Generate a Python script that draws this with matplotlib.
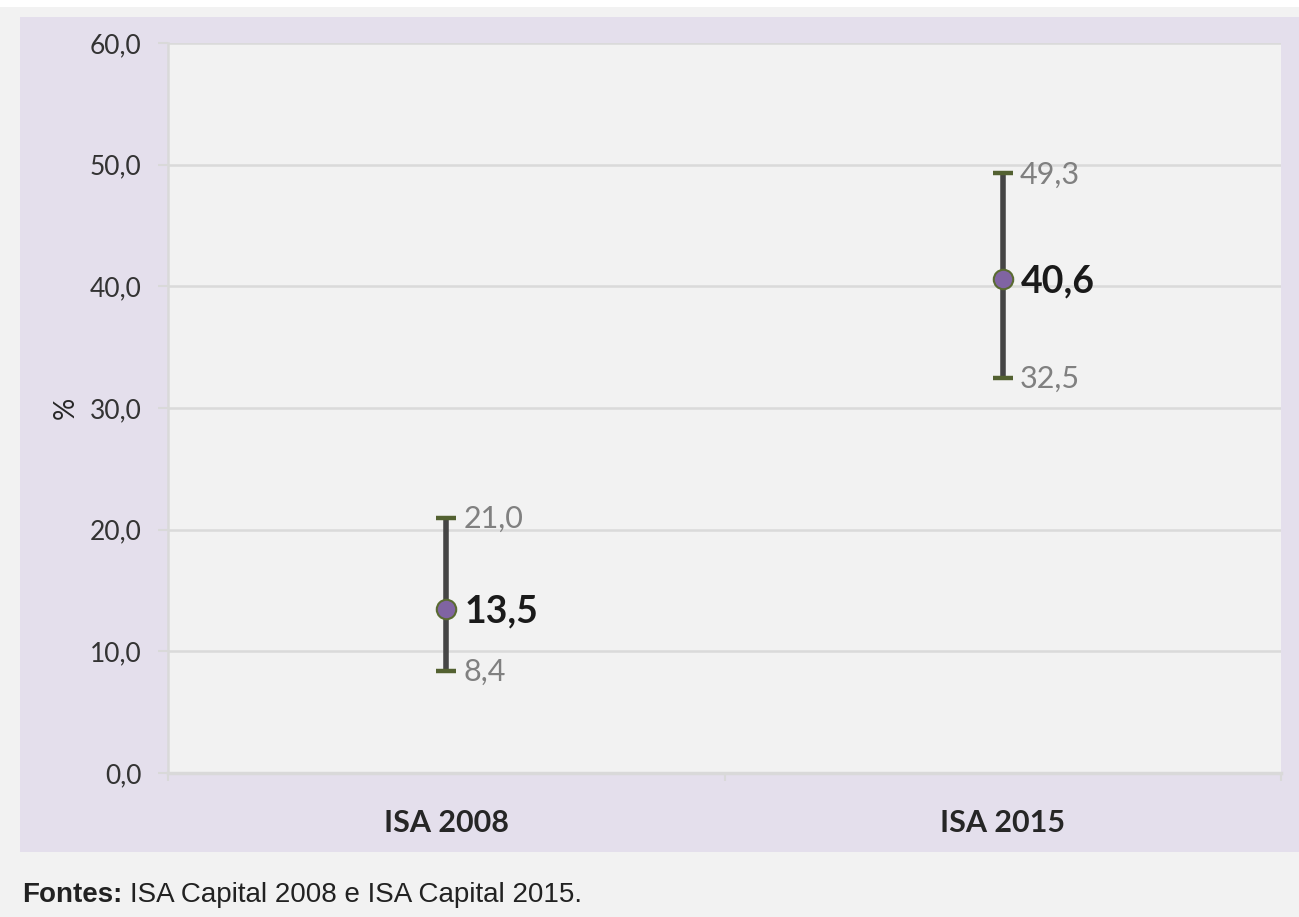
import matplotlib.pyplot as plt
from matplotlib.patches import Rectangle

# data
categories = ['ISA 2008', 'ISA 2015']
means = [13.5, 40.6]
lower = [8.4, 32.5]
upper = [21.0, 49.3]
yticks = [0, 10, 20, 30, 40, 50, 60]

def fmt(v):
    return f'{v:.1f}'.replace('.', ',')

plt.rcParams['font.family'] = ['Lato', 'DejaVu Sans']

fig = plt.figure(figsize=(12.99, 9.17), dpi=100)
fig.patch.set_facecolor('#f2f2f2')
# white strip at top and purple panel
fig.patches.append(Rectangle((0, 1 - 7 / 917), 1, 7 / 917, transform=fig.transFigure,
                             facecolor='white', edgecolor='none', zorder=-10))
fig.patches.append(Rectangle((20 / 1299, 1 - 852 / 917), 1 - 20 / 1299, (852 - 17) / 917,
                             transform=fig.transFigure, facecolor='#e4dfec', edgecolor='none', zorder=-10))

ax = fig.add_axes([168 / 1299, 1 - 773 / 917, (1281 - 168) / 1299, (773 - 43) / 917])
ax.set_facecolor('#f2f2f2')

x = list(range(len(categories)))
yerr = [[m - lo for m, lo in zip(means, lower)], [hi - m for m, hi in zip(means, upper)]]
line, caps, bars = ax.errorbar(x, means, yerr=yerr, fmt='o', color='#404040', ecolor='#454545',
                               elinewidth=4, capsize=7.5, capthick=3.2,
                               markersize=14, markerfacecolor='#8064a2', markeredgecolor='#5a6b32',
                               markeredgewidth=1.5, zorder=3)
for c in caps:
    c.set_markeredgecolor('#536131')
    c.set_markeredgewidth(3.2)

for xi, m, lo, hi in zip(x, means, lower, upper):
    ax.annotate(fmt(hi), (xi, hi), xytext=(12.5, -1), textcoords='offset points',
                va='center', ha='left', fontsize=22, color='#808080')
    ax.annotate(fmt(lo), (xi, lo), xytext=(12.5, -1), textcoords='offset points',
                va='center', ha='left', fontsize=22, color='#808080')
    ax.annotate(fmt(m), (xi, m), xytext=(13, -2), textcoords='offset points',
                va='center', ha='left', fontsize=27, fontweight='bold', color='#1a1a1a')

ax.set_xlim(-0.5, 1.5)
ax.set_ylim(0, 60)
ax.set_yticks(yticks)
ax.set_yticklabels([fmt(v) for v in yticks], fontsize=19, color='#333333')
ax.set_xticks(x)
ax.set_xticklabels(categories, fontsize=22, fontweight='bold', color='#262626')
ax.tick_params(axis='x', length=0, pad=26)
ax.tick_params(axis='y', length=7, color='#d9d9d9', width=1.5, pad=12)
ax.set_xticks([-0.5, 0.5, 1.5], minor=True)
ax.tick_params(axis='x', which='minor', length=6, color='#d9d9d9', width=1.5)

ax.grid(axis='y', color='#dadada', linewidth=1.8)
ax.set_axisbelow(True)
for s in ['top', 'right']:
    ax.spines[s].set_visible(False)
ax.spines['left'].set_color('#d9d9d9')
ax.spines['left'].set_linewidth(1.8)
ax.spines['bottom'].set_color('#d9d9d9')
ax.spines['bottom'].set_linewidth(2.5)

ax.set_ylabel('%', fontsize=20, color='#262626', labelpad=8)

fig.text(22 / 1299, 1 - 895 / 917, 'Fontes:', fontsize=20, family='Liberation Sans',
         fontweight='bold', va='center', color='#222222')
fig.text(130 / 1299, 1 - 895 / 917, 'ISA Capital 2008 e ISA Capital 2015.', fontsize=20,
         family='Liberation Sans', va='center', color='#222222')

fig.savefig('out.png', dpi=100, facecolor=fig.get_facecolor())
